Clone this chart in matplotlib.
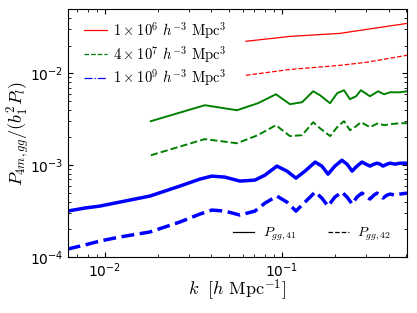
import matplotlib
matplotlib.use('Agg')
import matplotlib.pyplot as plt

plt.rcParams['mathtext.fontset'] = 'cm'

# red: 1e6 volume
k_red = [0.0626, 0.111, 0.213, 0.302, 0.508]
red_41 = [0.0223, 0.0252, 0.0272, 0.0301, 0.0349]
red_42 = [0.00951, 0.0110, 0.0122, 0.0132, 0.0157]

# green: 4e7 volume
k_green = [0.0182, 0.0367, 0.0557, 0.0732, 0.0925, 0.111, 0.130, 0.150, 0.164, 0.187, 0.205,
           0.224, 0.242, 0.262, 0.279, 0.314, 0.349, 0.377, 0.408, 0.464, 0.508]
green_41 = [0.00301, 0.00449, 0.00396, 0.00472, 0.00591, 0.00461, 0.00484, 0.00637, 0.00577, 0.00472, 0.00607,
            0.00654, 0.00522, 0.00562, 0.00654, 0.00562, 0.00637, 0.00591, 0.00621, 0.00621, 0.00637]
green_42 = [0.00128, 0.00192, 0.00173, 0.00212, 0.00272, 0.00207, 0.00212, 0.00293, 0.00252, 0.00207, 0.00259,
            0.00301, 0.00240, 0.00265, 0.00293, 0.00259, 0.00286, 0.00272, 0.00279, 0.00286, 0.00286]

# blue: 1e9 volume
k_blue = [0.00618, 0.00771, 0.00937, 0.01216, 0.01795, 0.02652, 0.03441, 0.0402, 0.0476, 0.0579, 0.0704,
          0.0802, 0.0937, 0.1067, 0.120, 0.135, 0.154, 0.168, 0.182, 0.199, 0.218, 0.233, 0.249, 0.265,
          0.283, 0.298, 0.314, 0.331, 0.344, 0.358, 0.372, 0.392, 0.408, 0.435, 0.464, 0.508]
blue_41 = [3.16e-4, 3.41e-4, 3.58e-4, 3.96e-4, 4.60e-4, 5.91e-4, 7.04e-4, 7.59e-4, 7.41e-4, 6.70e-4, 6.87e-4,
           7.78e-4, 9.76e-4, 8.61e-4, 7.22e-4, 8.61e-4, 1.08e-3, 9.76e-4, 7.98e-4, 9.76e-4, 1.13e-3, 1.025e-3,
           8.61e-4, 9.76e-4, 1.08e-3, 1.025e-3, 9.76e-4, 1.025e-3, 1.05e-3, 1.025e-3, 9.76e-4, 1.025e-3,
           1.05e-3, 1.025e-3, 1.05e-3, 1.05e-3]
blue_42 = [1.22e-4, 1.35e-4, 1.49e-4, 1.65e-4, 1.87e-4, 2.40e-4, 2.93e-4, 3.24e-4, 3.16e-4, 2.86e-4, 3.16e-4,
           3.86e-4, 4.60e-4, 3.96e-4, 3.16e-4, 3.96e-4, 5.09e-4, 4.38e-4, 3.58e-4, 4.49e-4, 5.09e-4, 4.49e-4,
           3.77e-4, 4.49e-4, 4.96e-4, 4.60e-4, 4.27e-4, 4.72e-4, 4.96e-4, 4.72e-4, 4.38e-4, 4.72e-4,
           4.84e-4, 4.72e-4, 4.84e-4, 4.96e-4]

volumes = [r'$1\times10^{6}\ h^{-3}\ \mathrm{Mpc}^{3}$',
           r'$4\times10^{7}\ h^{-3}\ \mathrm{Mpc}^{3}$',
           r'$1\times10^{9}\ h^{-3}\ \mathrm{Mpc}^{3}$']

fig = plt.figure(figsize=(4.17, 3.13), dpi=100)
ax = fig.add_axes([0.163, 0.179, 0.813, 0.792])

ax.plot(k_red, red_41, color='r', ls='-', lw=0.9)
ax.plot(k_red, red_42, color='r', ls='--', lw=0.9)
ax.plot(k_green, green_41, color='g', ls='-', lw=1.4)
ax.plot(k_green, green_42, color='g', ls='--', lw=1.4)
ax.plot(k_blue, blue_41, color='b', ls='-', lw=2.5)
ax.plot(k_blue, blue_42, color='b', ls='--', lw=2.5)

ax.set_xscale('log')
ax.set_yscale('log')
ax.set_xlim(0.0062, 0.508)
ax.set_ylim(1e-4, 0.05)

# legends
h1, = ax.plot([], [], color='r', ls='-', lw=0.9)
h2, = ax.plot([], [], color='g', ls='--', lw=0.9)
h3, = ax.plot([], [], color='b', ls='-.', lw=0.9)
leg1 = ax.legend([h1, h2, h3], volumes, loc='upper left', frameon=False, fontsize=10.5,
                 handlelength=1.55, handletextpad=0.45, borderaxespad=0.35, labelspacing=0.2,
                 bbox_to_anchor=(0.015, 1.0))
ax.add_artist(leg1)
s1, = ax.plot([], [], color='k', ls='-', lw=0.9)
s2, = ax.plot([], [], color='k', ls='--', lw=0.9)
ax.legend([s1, s2], [r'$P_{gg,41}$', r'$P_{gg,42}$'], loc='lower right', ncol=2, frameon=False,
          fontsize=10, handlelength=1.5, handletextpad=0.6, columnspacing=2.3,
          bbox_to_anchor=(0.99, 0.005))

ax.tick_params(which='both', direction='in', top=True, right=True, labelsize=10)
ax.set_xlabel(r'$k\ \ [h\ \mathrm{Mpc}^{-1}]$', fontsize=13, labelpad=-2)
ax.set_ylabel(r'$P_{4m,gg}/(b_1^2P_l)$', fontsize=13)
ax.yaxis.set_label_coords(-0.105, 0.5)

fig.savefig('out.png', dpi=100)
